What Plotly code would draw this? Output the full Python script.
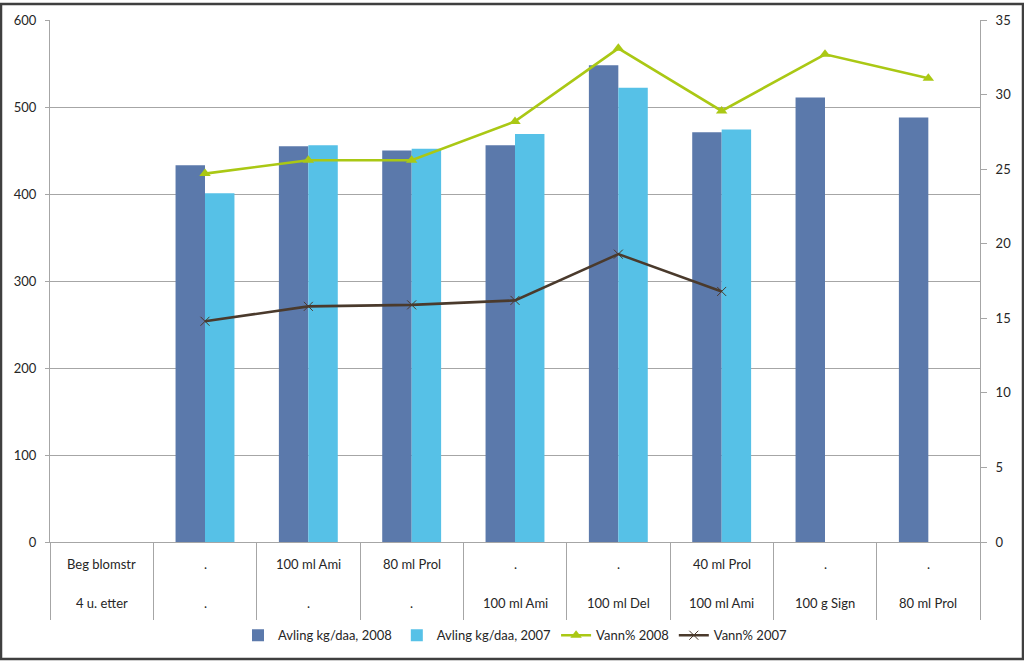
import plotly.graph_objects as go

# ---- data ----
row1_labels = ["Beg blomstr", ".", "100 ml Ami", "80 ml Prol", ".", ".", "40 ml Prol", ".", "."]
row2_labels = ["4 u. etter", ".", ".", ".", "100 ml Ami", "100 ml Del", "100 ml Ami", "100 g Sign", "80 ml Prol"]
avling_2008 = [None, 433, 455, 450, 456, 548, 471, 511, 488]
avling_2007 = [None, 401, 456, 452, 469, 522, 474, None, None]
vann_2008 = [None, 24.7, 25.6, 25.6, 28.2, 33.1, 28.9, 32.7, 31.1]
vann_2007 = [None, 14.8, 15.8, 15.9, 16.2, 19.3, 16.8, None, None]
left_ticks = [0, 100, 200, 300, 400, 500, 600]
right_ticks = [0, 5, 10, 15, 20, 25, 30, 35]

x = list(range(len(row1_labels)))

W, H = 1024, 662
L, R, T, B = 50, 44, 17, 119
pw, ph = W - L - R, H - T - B

def px_to_paper_y(py):
    return (H - B - py) / ph

def px_to_paper_x(px):
    return (px - L) / pw

FONT = "Lato"
GRID = "#A6A6A6"
TXT = "#262626"

fig = go.Figure()
fig.add_trace(go.Bar(x=x, y=avling_2008, name="Avling kg/daa, 2008",
                     marker=dict(color="#5B79AB", line=dict(width=0))))
fig.add_trace(go.Bar(x=x, y=avling_2007, name="Avling kg/daa, 2007",
                     marker=dict(color="#56C1E7", line=dict(width=0))))
fig.add_trace(go.Scatter(x=x, y=vann_2008, name="Vann% 2008", yaxis="y2",
                         mode="lines+markers",
                         line=dict(color="#AAC814", width=2.6),
                         marker=dict(symbol="triangle-up", size=10, color="#AAC814")))
fig.add_trace(go.Scatter(x=x, y=vann_2007, name="Vann% 2007", yaxis="y2",
                         mode="lines+markers",
                         line=dict(color="#4A3A2C", width=2.6),
                         marker=dict(symbol="x-thin", size=9,
                                     line=dict(color="#4A3A2C", width=1))))

annotations = []
for i in x:
    annotations.append(dict(x=i, y=px_to_paper_y(565), xref="x", yref="paper",
                            text=row1_labels[i], showarrow=False,
                            font=dict(family=FONT, size=13, color=TXT),
                            yanchor="middle", xanchor="center"))
    annotations.append(dict(x=i, y=px_to_paper_y(604), xref="x", yref="paper",
                            text=row2_labels[i], showarrow=False,
                            font=dict(family=FONT, size=13, color=TXT),
                            yanchor="middle", xanchor="center"))

shapes = [dict(type="rect", xref="paper", yref="paper",
               x0=px_to_paper_x(1), x1=px_to_paper_x(W - 1),
               y0=px_to_paper_y(H - 1), y1=px_to_paper_y(1),
               line=dict(color="#3F3F3F", width=2.5), layer="above")]

fig.update_layout(
    width=W, height=H,
    margin=dict(l=L, r=R, t=T, b=B),
    paper_bgcolor="white", plot_bgcolor="white",
    font=dict(family=FONT, size=13, color=TXT),
    barmode="group", bargap=0.43, bargroupgap=0,
    showlegend=True,
    legend=dict(orientation="h", x=0.5, xanchor="center",
                y=px_to_paper_y(637), yanchor="middle",
                font=dict(family=FONT, size=13, color=TXT),
                itemwidth=30, tracegroupgap=0),
    xaxis=dict(range=[-0.5, len(x) - 0.5], showgrid=False, zeroline=False,
               showline=True, linecolor=GRID, linewidth=1,
               tickmode="array", tickvals=[i - 0.5 for i in range(len(x) + 1)],
               ticktext=[""] * (len(x) + 1),
               ticks="outside", ticklen=77, tickcolor=GRID, tickwidth=1),
    yaxis=dict(range=[0, 600], tickmode="array", tickvals=left_ticks,
               showgrid=True, gridcolor=GRID, gridwidth=1,
               showline=True, linecolor=GRID, linewidth=1,
               ticks="outside", ticklen=4, tickcolor=GRID,
               zeroline=False, ticklabelstandoff=6,
               tickfont=dict(family=FONT, size=13, color=TXT)),
    yaxis2=dict(range=[0, 35], tickmode="array", tickvals=right_ticks,
                overlaying="y", side="right", showgrid=False,
                showline=True, linecolor=GRID, linewidth=1,
                ticks="outside", ticklen=6, tickcolor=GRID,
                zeroline=False, ticklabelstandoff=6,
                tickfont=dict(family=FONT, size=13, color=TXT)),
    annotations=annotations,
    shapes=shapes,
)

fig.write_html("out.html",
               config={"displayModeBar": False},
               post_script="document.body.style.margin='0';document.body.style.overflow='hidden';")
